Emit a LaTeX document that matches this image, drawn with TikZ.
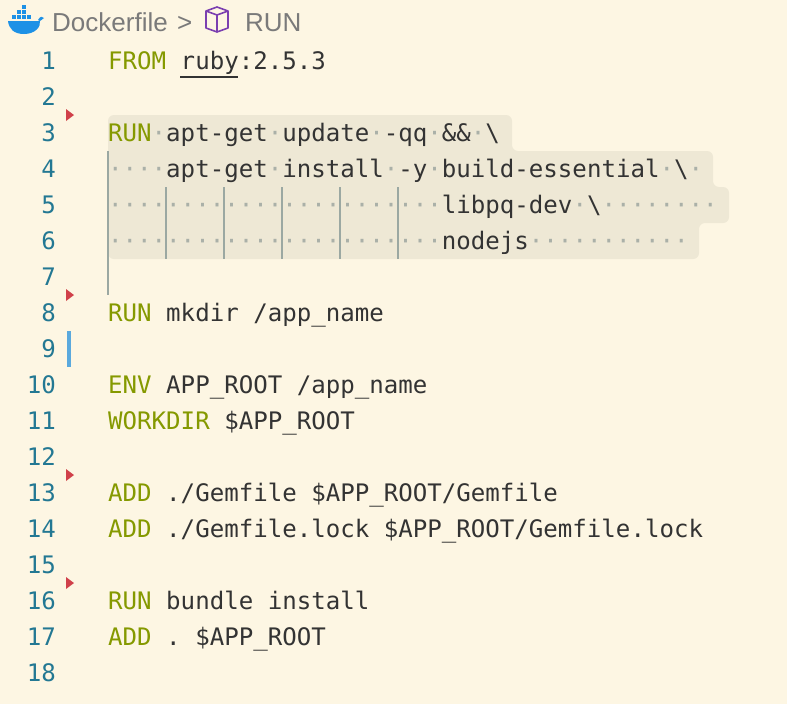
\documentclass[tikz,border=0pt]{standalone}
\usepackage{fontspec}
\setmainfont{Liberation Sans}
\newfontfamily\codefont{DejaVu Sans Mono}
\usetikzlibrary{calc}
\definecolor{paper}{HTML}{FDF6E3}
\definecolor{hilite}{HTML}{EEE8D5}
\definecolor{keyword}{HTML}{859900}
\definecolor{plain}{HTML}{333333}
\definecolor{lineno}{HTML}{237893}
\definecolor{wsdot}{HTML}{AAB0A8}
\definecolor{guide}{HTML}{9BA8A2}
\definecolor{crumb}{HTML}{7A7A7A}
\definecolor{whale}{HTML}{1D91E6}
\definecolor{cube}{HTML}{7B3FB0}
\definecolor{marker}{HTML}{D0414A}
\definecolor{modbar}{HTML}{5AA9DD}
\newcommand{\kw}[1]{\textcolor{keyword}{#1}}
\newcommand{\sd}{\textcolor{wsdot}{\textperiodcentered}}
\newcommand{\sdd}{\sd\sd\sd\sd}
\tikzset{
  code/.style={anchor=base west,inner sep=0pt,text=plain,font=\codefont\fontsize{24.1}{28}\selectfont},
  num/.style={anchor=base east,inner sep=0pt,text=lineno,font=\codefont\fontsize{24.1}{28}\selectfont},
  crumbtext/.style={anchor=base west,inner sep=0pt,text=crumb,font=\fontsize{26}{30}\selectfont},
  fold/.style={fill=marker},
  indent/.style={guide,line width=1.4pt}
}
\begin{document}
\begin{tikzpicture}[x=1pt,y=-1pt]

		\fill [paper] (0,0) rectangle (787,704);
		\useasboundingbox (0,0) rectangle (787,704);

		% selected block
		\fill [hilite,rounded corners=6pt] (108,115) -- (512,115) -- (512,151) -- (713,151) -- (713,187)
		   -- (729,187) -- (729,223) -- (699,223) -- (699,259) -- (108,259) -- cycle;

		\draw [indent] (108,151) -- (108,295);
		\foreach \g in {166,224,282,340,398}
		   \draw [indent] (\g,187) -- (\g,259);

		% breadcrumb
		\fill [whale] (8,21) -- (40,21) .. controls (41,27) and (35,34) .. (24,34)
		   .. controls (14,34) and (9,29) .. (8,21) -- cycle;
		\fill [whale] (38,20) .. controls (40,16) and (43,16) .. (44,18) .. controls (42,19) and (41,21) .. (40,21) -- cycle;
		\foreach \bx/\by in {12/15,17/15,22/15,27/15,17/10,22/10,22/5}
		   \fill [whale] (\bx,\by) rectangle +(4,4);
		\node [crumbtext] (file) at (52,31) {Dockerfile};
		\node [crumbtext] (sep) at (177,31) {>};
		\begin{scope}[cube,line width=1.6pt,line join=round]
		   \draw (206,11) -- (217,7) -- (228,11) -- (228,28) -- (217,32) -- (206,28) -- cycle;
		   \draw (206,11) -- (217,15) -- (228,11);
		   \draw (217,15) -- (217,32);
		\end{scope}
		\node [crumbtext] (step) at (245,31) {RUN};

		% gutter
		\foreach \n in {1,...,18}
		   \node [num] (n\n) at (56,{69+36*(\n-1)}) {\n};
		\foreach \k in {3,8,13,16}
		   \fill [fold] (66,{36*(\k-1)+43-6}) -- (74,{36*(\k-1)+43}) -- (66,{36*(\k-1)+43+6}) -- cycle;
		\fill [modbar] (67,331) rectangle (71,367);

		% code lines
		\node [code] (l1) at (108,69) {\kw{FROM} ruby:2.5.3};
		\draw [plain,line width=1.3pt] (180,77) -- (238,77);
		\node [code] (l3) at (108,141) {\kw{RUN}\sd apt-get\sd update\sd -qq\sd \&\&\sd \textbackslash};
		\node [code] (l4) at (108,177) {\sdd apt-get\sd install\sd -y\sd build-essential\sd \textbackslash\sd};
		\node [code] (l5) at (108,213) {\sdd\sdd\sdd\sdd\sdd\sd\sd\sd libpq-dev\sd \textbackslash\sdd\sdd};
		\node [code] (l6) at (108,249) {\sdd\sdd\sdd\sdd\sdd\sd\sd\sd nodejs\sdd\sdd\sd\sd\sd};
		\node [code] (l8) at (108,321) {\kw{RUN} mkdir /app\_name};
		\node [code] (l10) at (108,393) {\kw{ENV} APP\_ROOT /app\_name};
		\node [code] (l11) at (108,429) {\kw{WORKDIR} \$APP\_ROOT};
		\node [code] (l13) at (108,501) {\kw{ADD} ./Gemfile \$APP\_ROOT/Gemfile};
		\node [code] (l14) at (108,537) {\kw{ADD} ./Gemfile.lock \$APP\_ROOT/Gemfile.lock};
		\node [code] (l16) at (108,609) {\kw{RUN} bundle install};
		\node [code] (l17) at (108,645) {\kw{ADD} . \$APP\_ROOT};

\end{tikzpicture}
\end{document}
